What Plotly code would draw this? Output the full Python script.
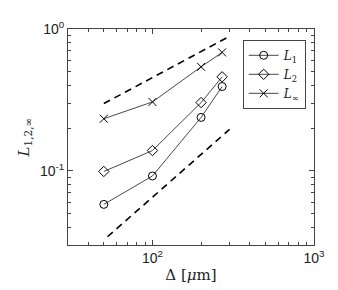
import plotly.graph_objects as go
import numpy as np

delta = [50, 100, 200, 270]
L1 = [0.058, 0.092, 0.238, 0.393]
L2 = [0.099, 0.139, 0.303, 0.46]
Linf = [0.233, 0.306, 0.541, 0.684]

ref_upper_x = [50, 300]
ref_upper_y = [0.298, 0.888]
ref_lower_x = [52.7, 300]
ref_lower_y = [0.0343, 0.196]

series_names = ["<i>L</i><sub>1</sub>", "<i>L</i><sub>2</sub>", "<i>L</i><sub>∞</sub>"]
symbols = ["circle-open", "diamond-open", "x-thin-open"]

fig = go.Figure()
for name, ys, sym in zip(series_names, [L1, L2, Linf], symbols):
    fig.add_trace(go.Scatter(
        x=delta, y=ys, mode="lines+markers", name=name,
        line=dict(color="#333333", width=0.9),
        marker=dict(symbol=sym, size=8, color="black", line=dict(color="black", width=1)),
    ))
for xs, ys in [(ref_upper_x, ref_upper_y), (ref_lower_x, ref_lower_y)]:
    fig.add_trace(go.Scatter(
        x=xs, y=ys, mode="lines", showlegend=False,
        line=dict(color="black", width=1.6, dash="7px,5px"),
    ))

tickfont = dict(family="Liberation Sans, Arial, sans-serif", size=14, color="#222")
xminor = [40, 50, 60, 70, 80, 90, 200, 300, 400, 500, 600, 700, 800, 900]
yminor = [0.04, 0.05, 0.06, 0.07, 0.08, 0.09, 0.2, 0.3, 0.4, 0.5, 0.6, 0.7, 0.8, 0.9]

fig.update_xaxes(
    type="log", range=[np.log10(30), 3],
    tickvals=[100, 1000], ticktext=["10<sup>2</sup>", "10<sup>3</sup>"],
    ticks="inside", ticklen=5, tickcolor="#444", mirror="allticks",
    showline=True, linecolor="#444", linewidth=1, showgrid=False, zeroline=False,
    minor=dict(tickvals=xminor, ticks="inside", ticklen=3, tickcolor="#444", showgrid=False),
    tickfont=tickfont,
    title=dict(text="Δ [<i>μ</i>m]", font=dict(family="DejaVu Serif, serif", size=15, color="#222"), standoff=4),
)
fig.update_yaxes(
    type="log", range=[np.log10(0.03), 0],
    tickvals=[0.1, 1], ticktext=["10<sup>-1</sup>", "10<sup>0</sup>"],
    ticks="inside", ticklen=5, tickcolor="#444", mirror="allticks",
    showline=True, linecolor="#444", linewidth=1, showgrid=False, zeroline=False,
    minor=dict(tickvals=yminor, ticks="inside", ticklen=3, tickcolor="#444", showgrid=False),
    tickfont=tickfont,
    title=dict(text="<i>L</i><sub>1,2,∞</sub>", font=dict(family="DejaVu Serif, serif", size=15, color="#222"), standoff=6),
)
fig.update_layout(
    width=338, height=290,
    margin=dict(l=60, r=32, t=21, b=53),
    paper_bgcolor="white", plot_bgcolor="white",
    legend=dict(x=0.71, y=0.95, xanchor="left", yanchor="top",
                bordercolor="#444", borderwidth=1, bgcolor="white",
                font=dict(family="DejaVu Serif, serif", size=12, color="#222"),
                tracegroupgap=0, itemwidth=30),
)
fig.write_html("out.html")
